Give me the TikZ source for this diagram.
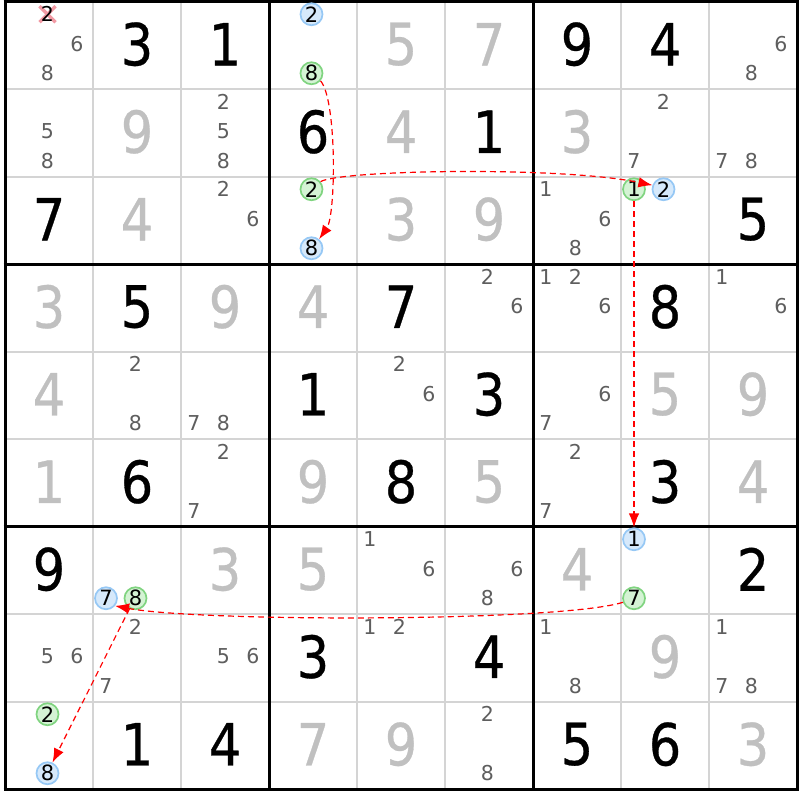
\documentclass[tikz,border=0pt]{standalone}
\usepackage{fontspec}
\setmainfont{DejaVu Sans}
\newfontfamily\bigfont{DejaVu Sans}[FakeStretch=0.88,FakeBold=0.5]
\usetikzlibrary{arrows.meta}
\definecolor{solvedgray}{HTML}{C0C0C0}
\definecolor{candgray}{HTML}{5E5E5E}
\definecolor{thingrid}{HTML}{D4D4D4}
\definecolor{bluefill}{HTML}{D6E9FB}
\definecolor{bluedraw}{HTML}{96C8F5}
\definecolor{greenfill}{HTML}{D4F3D4}
\definecolor{greendraw}{HTML}{80D480}
\definecolor{xpink}{HTML}{F29AA4}
\newcommand{\setcand}[3]{%
  \pgfmathsetmacro{\candx}{5+88*(#2-0.5)+29.5*mod(#3-1,3)-31}%
  \pgfmathsetmacro{\candy}{1.5+87.5*(#1-0.5)+29.5*int((#3-1)/3)-31}}
\begin{document}
\begin{tikzpicture}[x=1pt,y=-1pt,
  given/.style={inner sep=0pt,text=black,font=\bigfont\fontsize{58}{58}\selectfont},
  solved/.style={given,text=solvedgray},
  cand/.style={inner sep=0pt,text=candgray,font=\fontsize{20.5}{20.5}\selectfont},
  circbase/.style={circle,inner sep=0pt,minimum size=22pt,line width=1.7pt,text=black,font=\fontsize{21}{21}\selectfont},
  bluec/.style={circbase,draw=bluedraw,fill=bluefill},
  greenc/.style={circbase,draw=greendraw,fill=greenfill},
  chainarrow/.style={draw=red,line width=1.2pt,dash pattern=on 6pt off 4pt,-{Latex[length=14pt,width=10.5pt]}}]
\useasboundingbox (0,0) rectangle (800,800);
\fill[white] (0,0) rectangle (800,800);
% thin grid lines
\foreach \i in {1,2,4,5,7,8} {
  \draw[thingrid,line width=2pt] ({5+88*\i},1.5) -- ({5+88*\i},789);
  \draw[thingrid,line width=2pt] (5,{1.5+87.5*\i}) -- (797,{1.5+87.5*\i});
}
% thick box lines
\foreach \i in {0,3,6,9} {
  \draw[black,line width=3pt] ({5+88*\i},0) -- ({5+88*\i},790.5);
  \draw[black,line width=3pt] (3.5,{1.5+87.5*\i}) -- (798.5,{1.5+87.5*\i});
}
% givens
\foreach \r/\c/\d in {1/2/3,1/3/1,1/7/9,1/8/4,2/4/6,2/6/1,3/1/7,3/9/5,4/2/5,4/5/7,4/8/8,5/4/1,5/6/3,6/2/6,6/5/8,6/8/3,7/1/9,7/9/2,8/4/3,8/6/4,9/2/1,9/3/4,9/7/5,9/8/6}
  \node[given] (g\r\c) at ({5+88*(\c-0.5)},{1.5+87.5*(\r-0.5)-1}) {\d};
% solved
\foreach \r/\c/\d in {1/5/5,1/6/7,2/2/9,2/5/4,2/7/3,3/2/4,3/5/3,3/6/9,4/1/3,4/3/9,4/4/4,5/1/4,5/8/5,5/9/9,6/1/1,6/4/9,6/6/5,6/9/4,7/3/3,7/4/5,7/7/4,8/8/9,9/4/7,9/5/9,9/9/3}
  \node[solved] (s\r\c) at ({5+88*(\c-0.5)},{1.5+87.5*(\r-0.5)-1}) {\d};
% crossed-out candidate
\setcand{1}{1}{2}
\coordinate (xc) at (\candx,\candy);
\draw[xpink,line width=3.2pt] ([shift={(-8,-8)}]xc) -- ([shift={(8,8)}]xc);
\draw[xpink,line width=3.2pt] ([shift={(-8,8)}]xc) -- ([shift={(8,-8)}]xc);
\node[cand,text=black] (k112) at (xc) {2};
% candidates
\foreach \r/\c/\d in {1/1/6,1/1/8,1/9/6,1/9/8,
  2/1/5,2/1/8,2/3/2,2/3/5,2/3/8,2/8/2,2/8/7,2/9/7,2/9/8,
  3/3/2,3/3/6,3/7/1,3/7/6,3/7/8,
  4/6/2,4/6/6,4/7/1,4/7/2,4/7/6,4/9/1,4/9/6,
  5/2/2,5/2/8,5/3/7,5/3/8,5/5/2,5/5/6,5/7/6,5/7/7,
  6/3/2,6/3/7,6/7/2,6/7/7,
  7/5/1,7/5/6,7/6/6,7/6/8,
  8/1/5,8/1/6,8/2/2,8/2/7,8/3/5,8/3/6,8/5/1,8/5/2,8/7/1,8/7/8,8/9/1,8/9/7,8/9/8,
  9/6/2,9/6/8} {
  \setcand{\r}{\c}{\d}
  \node[cand] (k\r\c\d) at (\candx,\candy) {\d};
}
% circled candidates
\foreach \r/\c/\d/\s in {1/4/2/bluec,1/4/8/greenc,3/4/2/greenc,3/4/8/bluec,3/8/1/greenc,3/8/2/bluec,
  7/2/7/bluec,7/2/8/greenc,7/8/1/bluec,7/8/7/greenc,9/1/2/greenc,9/1/8/bluec} {
  \setcand{\r}{\c}{\d}
  \node[\s] (k\r\c\d) at (\candx,\candy) {\d};
}
% chain arrows
\draw[chainarrow] (k148.-40) .. controls (337,100) and (336,215) .. (k348.50);
\draw[chainarrow] (k342.40) .. controls (340,170) and (560,166) .. (k382.160);
\draw[chainarrow] (k381.south) -- (k781.north);
\draw[chainarrow] (k787.200) .. controls (560,622) and (200,622) .. (k727.-40);
\draw[chainarrow] (k728.240) -- (k918.65);
\end{tikzpicture}
\end{document}
